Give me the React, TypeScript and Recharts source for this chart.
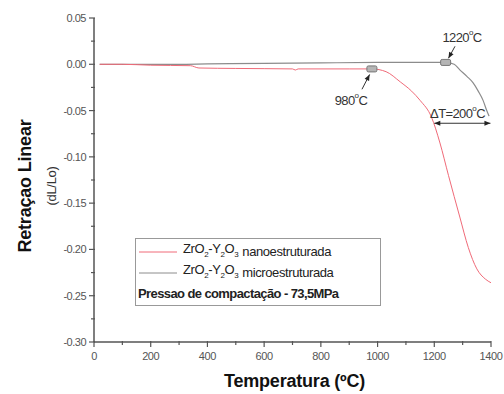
import { LineChart, Line, XAxis, YAxis, ReferenceDot, ReferenceLine } from 'recharts';

// nanostructured powder (red)
const nanoTemp = [20, 100, 200, 340, 370, 500, 700, 710, 720, 900, 980, 1030, 1080, 1120, 1150, 1190, 1220, 1250, 1290, 1320, 1350, 1380, 1400];
const nanoShrink = [0, 0, -0.001, -0.0015, -0.004, -0.0045, -0.005, -0.0062, -0.005, -0.005, -0.005, -0.008, -0.019, -0.029, -0.039, -0.057, -0.085, -0.12, -0.165, -0.198, -0.221, -0.232, -0.236];

// microstructured powder (gray)
const microTemp = [20, 300, 400, 600, 800, 1000, 1240, 1270, 1290, 1315, 1337, 1355, 1372, 1385, 1393];
const microShrink = [0, 0, 0.0005, 0.001, 0.0015, 0.002, 0.002, 0, -0.006, -0.013, -0.02, -0.029, -0.039, -0.05, -0.056];

const seriesNames = ['nanoestruturada', 'microestruturada'];
const seriesColors = ['#f06a78', '#8c8c8c'];

const xMajor = [0, 200, 400, 600, 800, 1000, 1200, 1400];
const xMinor = [100, 300, 500, 700, 900, 1100, 1300];
const yMajor = [0.05, 0, -0.05, -0.1, -0.15, -0.2, -0.25, -0.3];
const yMinor = [0.025, -0.025, -0.075, -0.125, -0.175, -0.225, -0.275];
const yLabels = ['0.05', '0.00', '-0.05', '-0.10', '-0.15', '-0.20', '-0.25', '-0.30'];

// onset markers
const markerTemp = [980, 1240];
const markerShrink = [-0.005, 0.002];
const onsetLabels = ['980', '1220'];

const nanoData = nanoTemp.map((t, i) => ({ t, v: nanoShrink[i] }));
const microData = microTemp.map((t, i) => ({ t, v: microShrink[i] }));

const FONT = '"Liberation Sans", Arial, sans-serif';
const AXIS = '#555';

const isMajor = (list: number[], v: number) => list.some((m) => Math.abs(m - v) < 1e-6);

const BottomTick = (p: any) => {
  const major = isMajor(xMajor, p.payload.value);
  return (
    <g>
      <line x1={p.x} x2={p.x} y1={p.y - 1} y2={p.y + (major ? 5 : 3)} stroke={AXIS} strokeWidth={1.2} />
      {major && (
        <text x={p.x} y={p.y + 14} textAnchor="middle" dominantBaseline="central" fontSize={11} fill="#555" fontFamily={FONT} letterSpacing={-0.4}>
          {p.payload.value}
        </text>
      )}
    </g>
  );
};

const TopTick = (p: any) => {
  const major = isMajor(xMajor, p.payload.value);
  return <line x1={p.x} x2={p.x} y1={p.y} y2={p.y + (major ? 5 : 3)} stroke={AXIS} strokeWidth={1.2} />;
};

const LeftTick = (p: any) => {
  const idx = yMajor.findIndex((m) => Math.abs(m - p.payload.value) < 1e-6);
  const major = idx >= 0;
  return (
    <g>
      <line x1={p.x - (major ? 5 : 3)} x2={p.x + 1} y1={p.y} y2={p.y} stroke={AXIS} strokeWidth={1.2} />
      {major && (
        <text x={p.x - 8} y={p.y} textAnchor="end" dominantBaseline="central" fontSize={11} fill="#555" fontFamily={FONT} letterSpacing={-0.5}>
          {yLabels[idx]}
        </text>
      )}
    </g>
  );
};

const RightTick = (p: any) => {
  const major = isMajor(yMajor, p.payload.value);
  return <line x1={p.x - (major ? 5 : 3)} x2={p.x} y1={p.y} y2={p.y} stroke={AXIS} strokeWidth={1.2} />;
};

const arrowHead = (x: number, y: number, ang: number, key: string) => {
  const L = 6;
  const W = 2.5;
  const bx = x - L * Math.cos(ang);
  const by = y - L * Math.sin(ang);
  const nx = -Math.sin(ang) * W;
  const ny = Math.cos(ang) * W;
  return <polygon key={key} points={`${x},${y} ${bx + nx},${by + ny} ${bx - nx},${by - ny}`} fill="#222" />;
};

const arrowShape = (both: boolean) => (p: any) => {
  const { x1, y1, x2, y2 } = p;
  const ang = Math.atan2(y2 - y1, x2 - x1);
  return (
    <g>
      <line x1={x1} y1={y1} x2={x2} y2={y2} stroke="#333" strokeWidth={1} />
      {arrowHead(x2, y2, ang, 'e')}
      {both && arrowHead(x1, y1, ang + Math.PI, 's')}
    </g>
  );
};

const degText = (value: string, prefix = '') => (p: any) => (
  <text x={p.cx} y={p.cy} textAnchor="middle" dominantBaseline="central" fontSize={13} fill="#333" fontFamily={FONT} letterSpacing={-0.6}>
    {prefix}
    {value}
    <tspan fontSize={8} dy={-5}>o</tspan>
    <tspan dy={5}>C</tspan>
  </text>
);

const markerShape = (p: any) => (
  <rect x={p.cx - 5} y={p.cy - 3} width={10} height={6} rx={1.5} fill="#b5b5b5" stroke="#777" strokeWidth={1} />
);

const Formula = () => (
  <span>
    ZrO<sub style={{ fontSize: 8 }}>2</sub>-Y<sub style={{ fontSize: 8 }}>2</sub>O<sub style={{ fontSize: 8 }}>3</sub>
  </span>
);

export default function App() {
  return (
    <div style={{ position: 'absolute', left: 0, top: 0, width: 504, height: 394, background: '#fff', fontFamily: FONT }}>
      <LineChart width={504} height={394} margin={{ top: 18, right: 13, left: 0, bottom: 0 }}>
        <XAxis
          xAxisId="b"
          dataKey="t"
          type="number"
          domain={[0, 1400]}
          ticks={[...xMajor, ...xMinor].sort((a, b) => a - b)}
          interval={0}
          height={52}
          tickSize={0}
          tickMargin={0}
          tickLine={false}
          tick={BottomTick}
          axisLine={{ stroke: AXIS, strokeWidth: 1.5 }}
          label={{
            content: (p: any) => (
              <text x={p.viewBox.x + p.viewBox.width / 2 + 2} y={381} textAnchor="middle" dominantBaseline="central" fontSize={18} fontWeight="bold" fill="#111" fontFamily={FONT} letterSpacing={-0.2}>
                Temperatura (ºC)
              </text>
            ),
          }}
        />
        <XAxis
          xAxisId="t"
          orientation="top"
          dataKey="t"
          type="number"
          domain={[0, 1400]}
          ticks={[...xMajor, ...xMinor].sort((a, b) => a - b)}
          interval={0}
          height={0}
          tickSize={0}
          tickMargin={0}
          tickLine={false}
          tick={TopTick}
          axisLine={{ stroke: AXIS, strokeWidth: 1.5 }}
        />
        <YAxis
          yAxisId="l"
          type="number"
          domain={[-0.3, 0.05]}
          ticks={[...yMajor, ...yMinor]}
          interval={0}
          width={94}
          tickSize={0}
          tickMargin={0}
          tickLine={false}
          tick={LeftTick}
          axisLine={{ stroke: AXIS, strokeWidth: 1.5 }}
          label={{
            content: (p: any) => {
              const cy = p.viewBox.y + p.viewBox.height / 2 + 6;
              return (
                <g>
                  <text x={25} y={cy} transform={`rotate(-90 25 ${cy})`} textAnchor="middle" dominantBaseline="central" fontSize={18} fontWeight="bold" fill="#111" fontFamily={FONT} letterSpacing={-0.2}>
                    Retraçao Linear
                  </text>
                  <text x={51} y={cy} transform={`rotate(-90 51 ${cy})`} textAnchor="middle" dominantBaseline="central" fontSize={13} fill="#333" fontFamily={FONT} letterSpacing={-0.3}>
                    (dL/Lo)
                  </text>
                </g>
              );
            },
          }}
        />
        <YAxis
          yAxisId="r"
          orientation="right"
          type="number"
          domain={[-0.3, 0.05]}
          ticks={[...yMajor, ...yMinor]}
          interval={0}
          width={0}
          tickSize={0}
          tickMargin={0}
          tickLine={false}
          tick={RightTick}
          axisLine={{ stroke: AXIS, strokeWidth: 1.5 }}
        />
        <Line xAxisId="b" yAxisId="l" data={microData} dataKey="v" name={seriesNames[1]} type="monotone" stroke={seriesColors[1]} strokeWidth={1.2} dot={false} isAnimationActive={false} />
        <Line xAxisId="b" yAxisId="l" data={nanoData} dataKey="v" name={seriesNames[0]} type="monotone" stroke={seriesColors[0]} strokeWidth={1} dot={false} isAnimationActive={false} />

        <ReferenceLine xAxisId="b" yAxisId="l" segment={[{ x: 945, y: -0.027 }, { x: 972, y: -0.011 }]} shape={arrowShape(false)} />
        <ReferenceLine xAxisId="b" yAxisId="l" segment={[{ x: 1273, y: 0.0194 }, { x: 1250, y: 0.0065 }]} shape={arrowShape(false)} />
        <ReferenceLine xAxisId="b" yAxisId="l" segment={[{ x: 1200, y: -0.0637 }, { x: 1398, y: -0.0637 }]} shape={arrowShape(true)} />

        {markerTemp.map((t, i) => (
          <ReferenceDot key={`m${i}`} xAxisId="b" yAxisId="l" x={t} y={markerShrink[i]} shape={markerShape} />
        ))}
        <ReferenceDot xAxisId="b" yAxisId="l" x={906} y={-0.0389} shape={degText(onsetLabels[0])} />
        <ReferenceDot xAxisId="b" yAxisId="l" x={1298} y={0.0292} shape={degText(onsetLabels[1])} />
        <ReferenceDot xAxisId="b" yAxisId="l" x={1282} y={-0.053} shape={degText('200', 'ΔT=')} />
      </LineChart>

      <div
        style={{
          position: 'absolute',
          left: 135,
          top: 238,
          width: 246,
          height: 68,
          border: '1px solid #999',
          background: '#fff',
          fontSize: 13,
          color: '#222',
          letterSpacing: -0.4,
          lineHeight: '21px',
          paddingTop: 2,
          boxSizing: 'border-box',
        }}
      >
        {seriesNames.map((n, i) => (
          <div key={n} style={{ display: 'flex', alignItems: 'center', height: 21 }}>
            <svg width={44} height={10} style={{ marginLeft: 3 }}>
              <line x1={0} x2={38} y1={5} y2={5} stroke={seriesColors[i]} strokeWidth={1} />
            </svg>
            <Formula />
            <span style={{ marginLeft: 4 }}>{n}</span>
          </div>
        ))}
        <div style={{ fontWeight: 'bold', marginLeft: 2, height: 21, letterSpacing: -0.6 }}>Pressao de compactação - 73,5MPa</div>
      </div>
    </div>
  );
}
